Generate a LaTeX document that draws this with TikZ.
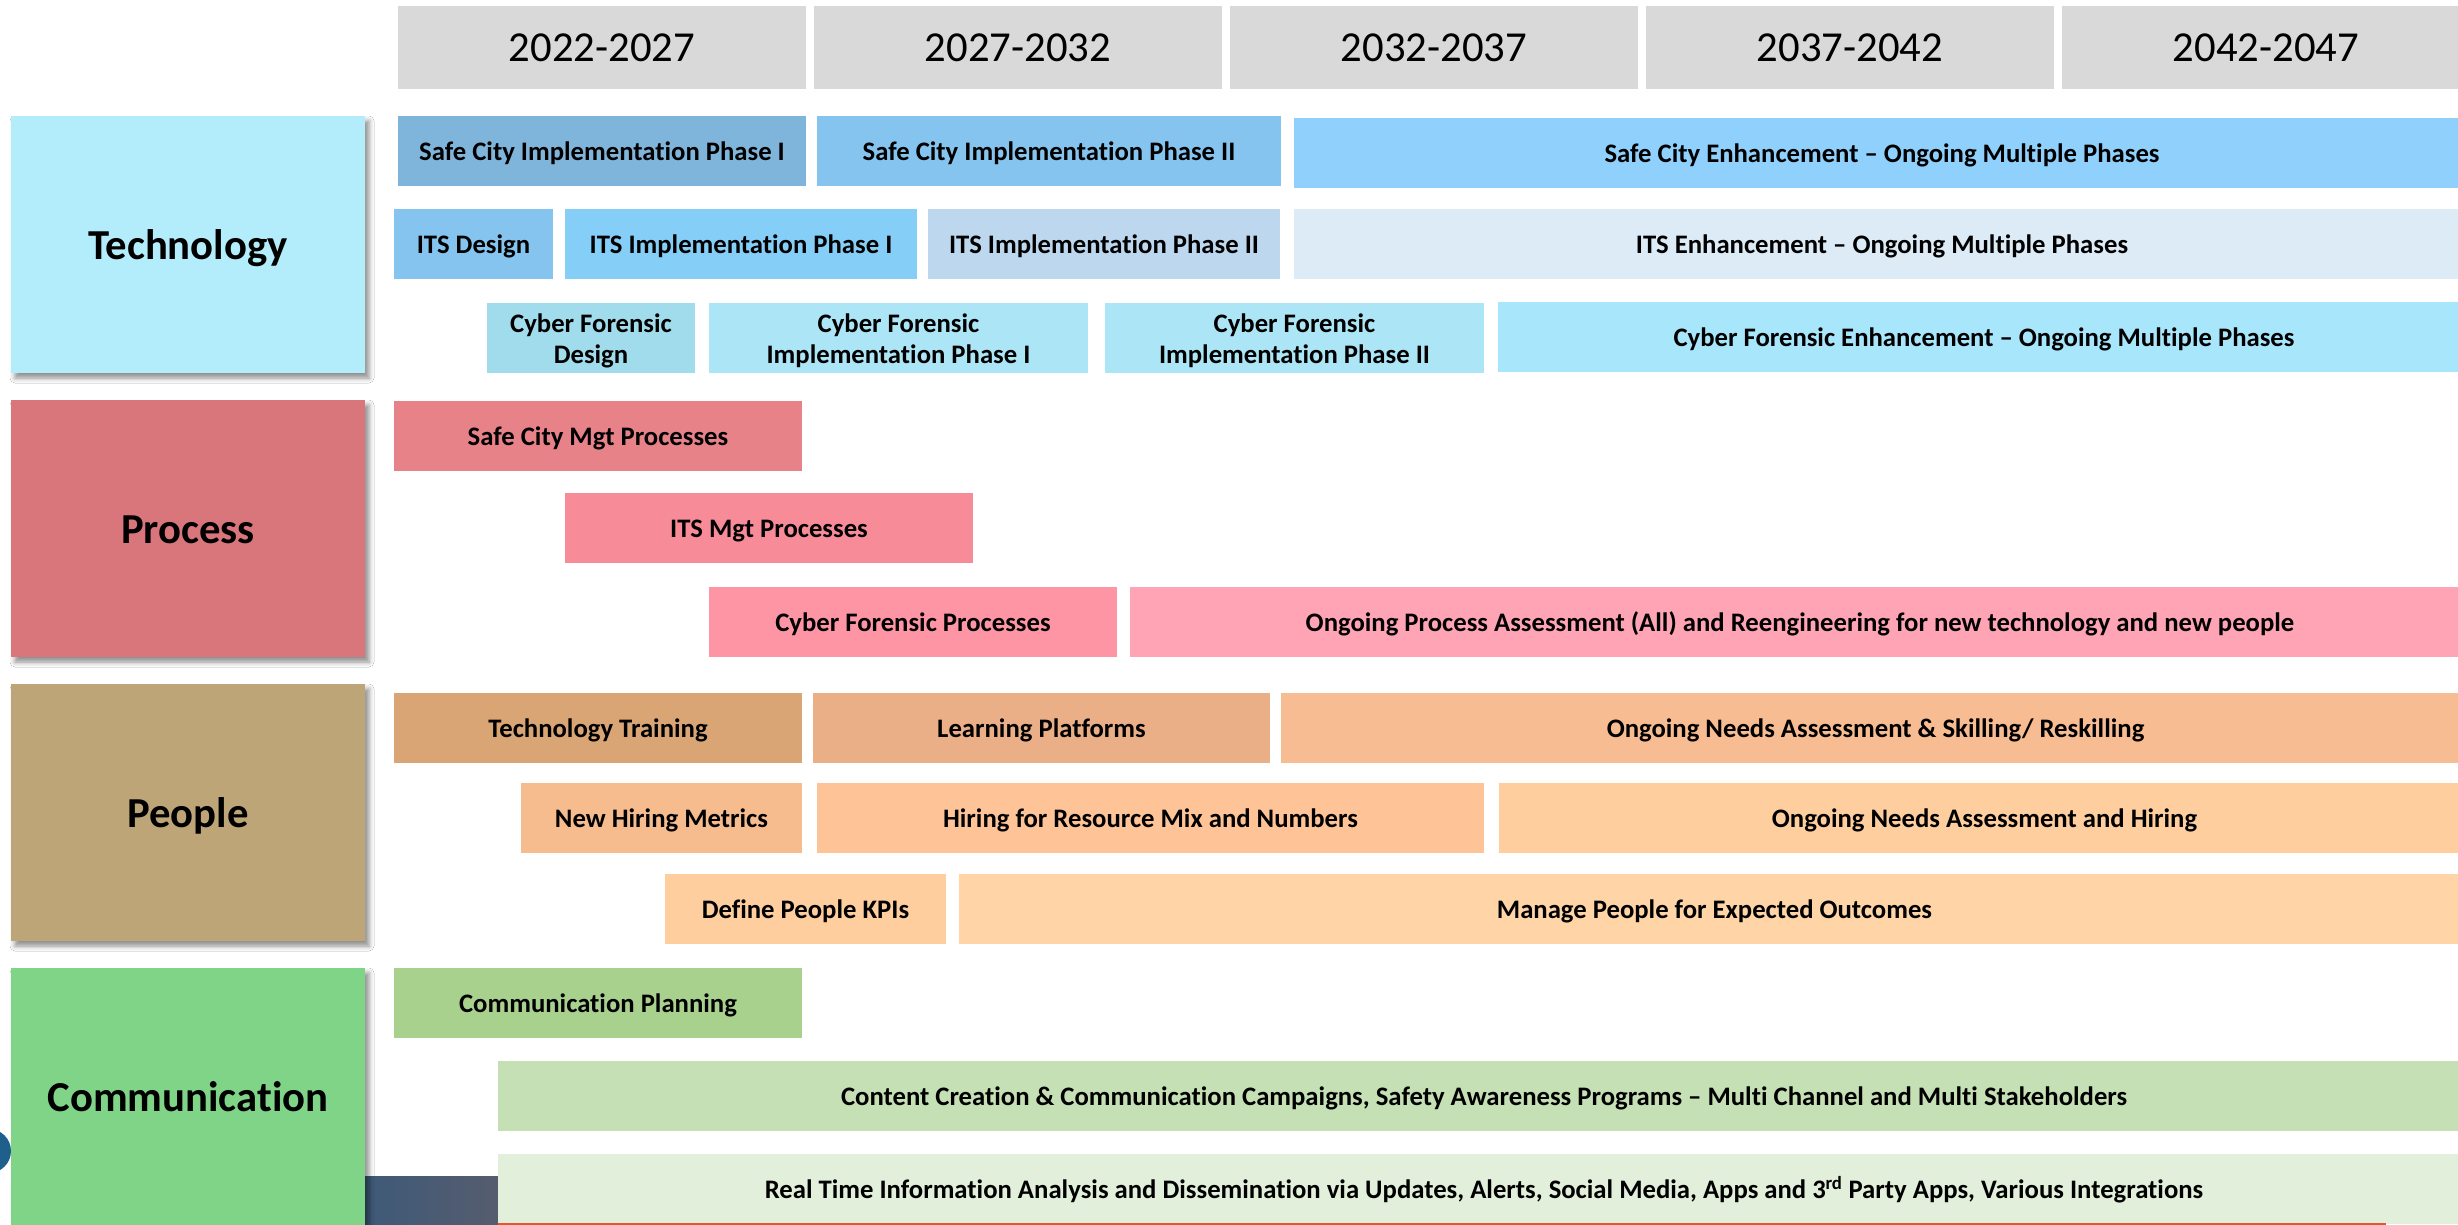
\documentclass[tikz,border=0pt]{standalone}
\usepackage{fontspec}
\setmainfont[Ligatures=NoCommon]{Carlito}
\usetikzlibrary{shadows.blur}
\definecolor{hdrgray}{HTML}{D9D9D9}
\definecolor{ctech}{HTML}{B3ECFA}
\definecolor{cproc}{HTML}{D8767C}
\definecolor{cpeop}{HTML}{BDA577}
\definecolor{ccomm}{HTML}{80D487}
\definecolor{scone}{HTML}{7FB5DB}
\definecolor{sctwo}{HTML}{85C4EE}
\definecolor{scenh}{HTML}{8FD0FC}
\definecolor{itsd}{HTML}{85C4EE}
\definecolor{itsone}{HTML}{85CEF8}
\definecolor{itstwo}{HTML}{BDD7EE}
\definecolor{itsenh}{HTML}{DDEBF7}
\definecolor{cfd}{HTML}{A1DCEC}
\definecolor{cfone}{HTML}{ACE5F6}
\definecolor{cfenh}{HTML}{A8E6FC}
\definecolor{pscm}{HTML}{E78289}
\definecolor{pitsm}{HTML}{F78C98}
\definecolor{pcfp}{HTML}{FD95A4}
\definecolor{popa}{HTML}{FEA4B5}
\definecolor{ptt}{HTML}{D9A575}
\definecolor{plp}{HTML}{EAAF87}
\definecolor{pons}{HTML}{F8BC92}
\definecolor{pnhm}{HTML}{F6BC8E}
\definecolor{phrm}{HTML}{FEC497}
\definecolor{ponh}{HTML}{FECE9F}
\definecolor{pdpk}{HTML}{FECE9F}
\definecolor{pmpe}{HTML}{FFD5A7}
\definecolor{gcp}{HTML}{A9D18E}
\definecolor{gcc}{HTML}{C5E0B4}
\definecolor{grt}{HTML}{E2EFDA}
\definecolor{circblue}{HTML}{1F5F8B}
\definecolor{darkl}{HTML}{3E5A78}
\definecolor{darkr}{HTML}{565C6E}
\definecolor{orangeline}{HTML}{E8552A}
\tikzset{
  boxbase/.style={inner sep=0pt, draw=none},
  hdrtxt/.style={inner sep=0pt, anchor=base, font=\fontsize{42.7}{50}\selectfont},
  bartxt/.style={inner sep=0pt, anchor=base, font=\bfseries\fontsize{26.7}{31}\selectfont},
  twotxt/.style={inner sep=0pt, align=center, font=\bfseries\fontsize{26.7}{31}\selectfont},
  cattxt/.style={inner sep=0pt, anchor=base, font=\bfseries\fontsize{42.7}{50}\selectfont},
  catshadow/.style={blur shadow={shadow xshift=4pt, shadow yshift=-5pt, shadow blur radius=5pt, shadow opacity=45}},
}
% name, x1, y1, x2, y2, box style, text style, baseline offset, text
\newcommand\tbox[9]{%
  \node[boxbase, #6, minimum width={(#4-#2)*1pt}, minimum height={(#5-#3)*1pt}] (#1) at ({(#2+#4)/2},{(#3+#5)/2}) {};
  \node[#7] (#1-t) at ([yshift=-#8pt]#1.center) {#9};}
\begin{document}
\begin{tikzpicture}[x=1pt,y=-1pt]
\useasboundingbox (0,0) rectangle (2458,1225);
\fill[white] (0,0) rectangle (2458,1225);
% headers
\tbox{h1}{398}{6}{806}{89}{fill=hdrgray}{hdrtxt}{14.5}{2022-2027}
\tbox{h2}{814}{6}{1222}{89}{fill=hdrgray}{hdrtxt}{14.5}{2027-2032}
\tbox{h3}{1230}{6}{1638}{89}{fill=hdrgray}{hdrtxt}{14.5}{2032-2037}
\tbox{h4}{1646}{6}{2054}{89}{fill=hdrgray}{hdrtxt}{14.5}{2037-2042}
\tbox{h5}{2062}{6}{2470}{89}{fill=hdrgray}{hdrtxt}{14.5}{2042-2047}
% decoration at bottom left
\fill[circblue] (-11,1151) circle[radius=22];
\shade[left color=darkl, right color=darkr] (365,1176) rectangle (498,1225);
% categories
\tbox{tech}{11}{116}{365}{373}{fill=ctech,catshadow}{cattxt}{14.8}{Technology}
\tbox{proc}{11}{400}{365}{657}{fill=cproc,catshadow}{cattxt}{14.8}{Process}
\tbox{peop}{11}{684}{365}{941}{fill=cpeop,catshadow}{cattxt}{14.8}{People}
\tbox{comm}{11}{968}{365}{1225}{fill=ccomm,catshadow}{cattxt}{14.8}{Communication}
% technology
\tbox{sc1}{398}{116}{806}{186}{fill=scone}{bartxt}{9.6}{Safe City Implementation Phase I}
\tbox{sc2}{817}{116}{1281}{186}{fill=sctwo}{bartxt}{9.6}{Safe City Implementation Phase II}
\tbox{sce}{1294}{118}{2470}{188}{fill=scenh}{bartxt}{9.6}{Safe City Enhancement – Ongoing Multiple Phases}
\tbox{itsd}{394}{209}{553}{279}{fill=itsd}{bartxt}{9.6}{ITS Design}
\tbox{its1}{565}{209}{917}{279}{fill=itsone}{bartxt}{9.6}{ITS Implementation Phase I}
\tbox{its2}{928}{209}{1280}{279}{fill=itstwo}{bartxt}{9.6}{ITS Implementation Phase II}
\tbox{itse}{1294}{209}{2470}{279}{fill=itsenh}{bartxt}{9.6}{ITS Enhancement – Ongoing Multiple Phases}
\tbox{cfd}{487}{303}{695}{373}{fill=cfd}{twotxt}{3}{Cyber Forensic\\Design}
\tbox{cf1}{709}{303}{1088}{373}{fill=cfone}{twotxt}{3}{Cyber Forensic\\Implementation Phase I}
\tbox{cf2}{1105}{303}{1484}{373}{fill=cfone}{twotxt}{3}{Cyber Forensic\\Implementation Phase II}
\tbox{cfe}{1498}{302}{2470}{372}{fill=cfenh}{bartxt}{9.6}{Cyber Forensic Enhancement – Ongoing Multiple Phases}
% process
\tbox{scm}{394}{401}{802}{471}{fill=pscm}{bartxt}{9.6}{Safe City Mgt Processes}
\tbox{itsm}{565}{493}{973}{563}{fill=pitsm}{bartxt}{9.6}{ITS Mgt Processes}
\tbox{cfp}{709}{587}{1117}{657}{fill=pcfp}{bartxt}{9.6}{Cyber Forensic Processes}
\tbox{opa}{1130}{587}{2470}{657}{fill=popa}{bartxt}{9.6}{Ongoing Process Assessment (All) and Reengineering for new technology and new people}
% people
\tbox{tt}{394}{693}{802}{763}{fill=ptt}{bartxt}{9.6}{Technology Training}
\tbox{lp}{813}{693}{1270}{763}{fill=plp}{bartxt}{9.6}{Learning Platforms}
\tbox{ons}{1281}{693}{2470}{763}{fill=pons}{bartxt}{9.6}{Ongoing Needs Assessment \& Skilling/ Reskilling}
\tbox{nhm}{521}{783}{802}{853}{fill=pnhm}{bartxt}{9.6}{New Hiring Metrics}
\tbox{hrm}{817}{783}{1484}{853}{fill=phrm}{bartxt}{9.6}{Hiring for Resource Mix and Numbers}
\tbox{onh}{1499}{783}{2470}{853}{fill=ponh}{bartxt}{9.6}{Ongoing Needs Assessment and Hiring}
\tbox{dpk}{665}{874}{946}{944}{fill=pdpk}{bartxt}{9.6}{Define People KPIs}
\tbox{mpe}{959}{874}{2470}{944}{fill=pmpe}{bartxt}{9.6}{Manage People for Expected Outcomes}
% communication
\tbox{cp}{394}{968}{802}{1038}{fill=gcp}{bartxt}{9.6}{Communication Planning}
\tbox{cc}{498}{1061}{2470}{1131}{fill=gcc}{bartxt}{9.6}{Content Creation \& Communication Campaigns, Safety Awareness Programs – Multi Channel and Multi Stakeholders}
\tbox{rt}{498}{1154}{2470}{1224}{fill=grt}{bartxt}{9.6}{Real Time Information Analysis and Dissemination via Updates, Alerts, Social Media, Apps and 3\textsuperscript{rd} Party Apps, Various Integrations}
\fill[orangeline] (498,1222.5) rectangle (2386,1225);
\end{tikzpicture}
\end{document}
